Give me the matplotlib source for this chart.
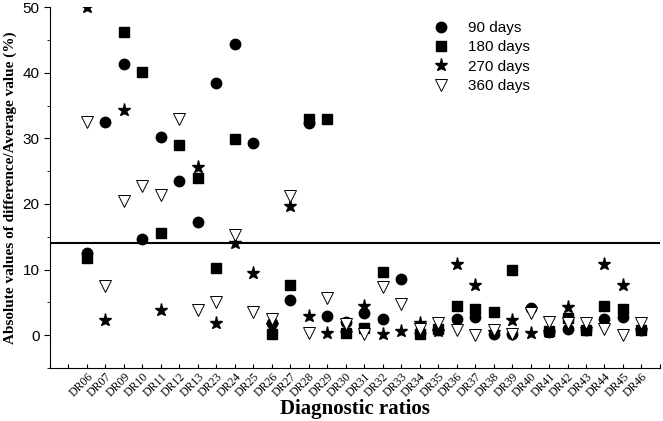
import numpy as np
import matplotlib
matplotlib.use("Agg")
from matplotlib import pyplot as plt
from matplotlib.ticker import MultipleLocator

ratios = ["DR06", "DR07", "DR09", "DR10", "DR11", "DR12", "DR13", "DR23", "DR24", "DR25",
          "DR26", "DR27", "DR28", "DR29", "DR30", "DR31", "DR32", "DR33", "DR34", "DR35",
          "DR36", "DR37", "DR38", "DR39", "DR40", "DR41", "DR42", "DR43", "DR44", "DR45", "DR46"]

nan = np.nan
d90 = [12.5, 32.5, 41.3, 14.7, 30.2, 23.5, 17.3, 38.4, 44.4, 29.3,
       1.8, 5.4, 32.4, 2.9, 2.0, 3.4, 2.4, 8.5, 0.3, 0.8,
       2.4, 2.8, 0.25, 0.2, 4.1, 0.5, 1.0, 0.8, 2.5, 2.8, 0.8]
d180 = [11.7, nan, 46.2, 40.1, 15.5, 29.0, 23.9, 10.3, 29.9, nan,
        0.15, 7.7, 32.9, 32.9, 0.3, 1.1, 9.6, nan, 0.25, 0.9,
        4.4, 4.0, 3.6, 9.9, nan, 0.6, 2.6, 0.8, 4.4, 4.0, 0.8]
d270 = [50.0, 2.3, 34.3, nan, 3.8, nan, 25.6, 1.9, 14.1, 9.5,
        1.6, 19.7, 2.9, 0.35, 0.3, 4.4, 0.25, 0.66, 1.9, 0.7,
        10.8, 7.6, 0.5, 2.3, 0.35, 0.5, 4.3, 0.9, 10.8, 7.6, 0.8]
d360 = [32.5, 7.5, 20.5, 22.8, 21.3, 33.0, 3.8, 5.0, 15.2, 3.5,
        2.5, 21.2, 0.4, 5.6, 1.7, 0.25, 7.4, 4.8, 1.0, 1.9,
        0.8, 0.0, 0.8, 0.25, 3.4, 2.0, 1.8, 1.8, 0.9, 0.0, 1.8]

x = np.arange(len(ratios)) + 2

fig = plt.figure(figsize=(6.63, 4.21), dpi=100)
ax = fig.add_axes([0.0754, 0.126, 0.920, 0.857])

ax.axhline(14, color="black", lw=1.5, zorder=1)

ax.plot(x, d90, "o", color="black", ms=7.5, label="90 days")
ax.plot(x, d180, "s", color="black", ms=6.5, label="180 days")
ax.plot(x, d270, "*", color="black", ms=9.5, label="270 days")
ax.plot(x, d360, "v", mfc="white", mec="black", mew=0.7, ms=8.5, label="360 days")

ax.set_xlim(0, 33)
ax.set_ylim(-5, 50)

ax.spines["top"].set_visible(False)
ax.spines["right"].set_visible(False)

ax.set_xticks(np.arange(0, 34))
labels = [""] * 34
for i, r in enumerate(ratios):
    labels[i + 2] = r
ax.set_xticklabels(labels, rotation=45, ha="right", fontsize=8.5,
                   family="Liberation Serif", rotation_mode="anchor")
ax.tick_params(axis="x", direction="in", length=3, pad=2)

ax.yaxis.set_major_locator(MultipleLocator(10))
ax.yaxis.set_minor_locator(MultipleLocator(5))
ax.set_yticks([0, 10, 20, 30, 40, 50])
ax.tick_params(axis="y", which="major", direction="out", length=4, labelsize=11)
ax.tick_params(axis="y", which="minor", direction="out", length=2.5)
for t in ax.get_yticklabels():
    t.set_family("Liberation Sans")

ax.set_xlabel("Diagnostic ratios", family="Liberation Serif", fontweight="bold",
              fontsize=15, va="center")
ax.xaxis.set_label_coords(0.5, -0.113)
ax.set_ylabel("Absolute values of difference/Average value (%)", family="Liberation Serif",
              fontweight="bold", fontsize=11, labelpad=4)

leg = ax.legend(loc="upper right", bbox_to_anchor=(0.81, 1.0), frameon=False,
                prop={"family": "Liberation Sans", "size": 11}, handletextpad=0.8,
                labelspacing=0.35, numpoints=1)

fig.savefig("out.png", dpi=100)
